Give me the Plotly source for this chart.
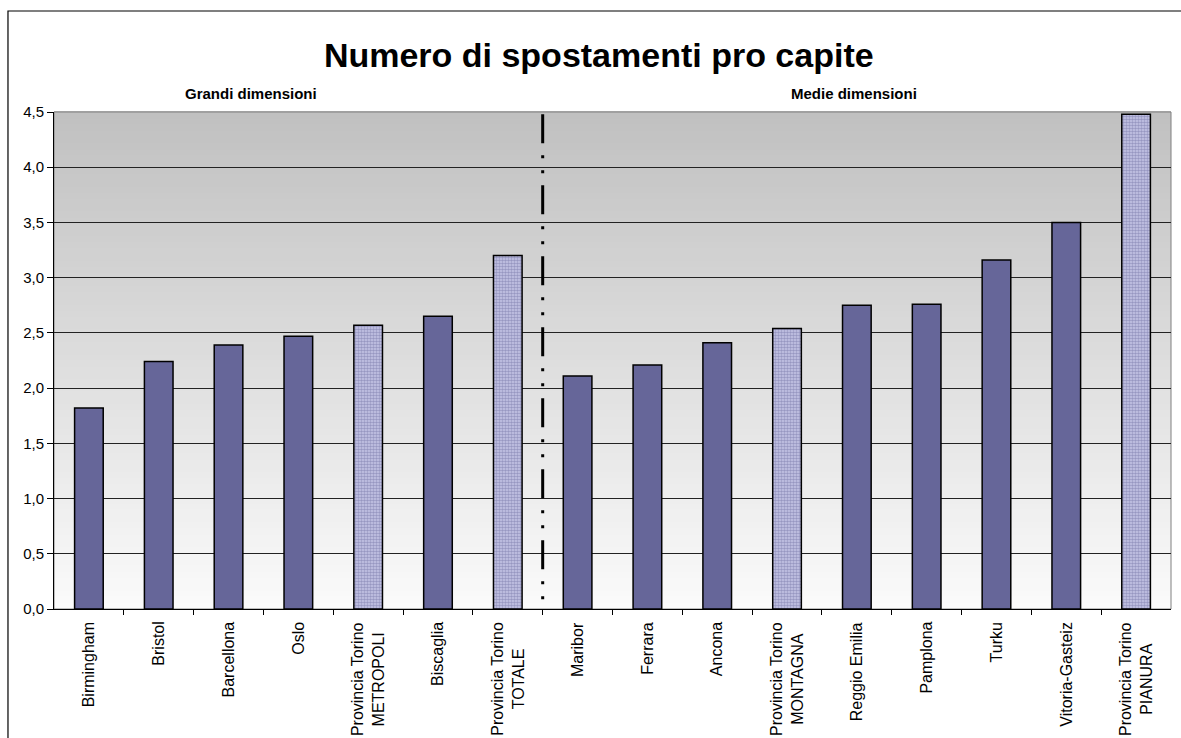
import plotly.graph_objects as go

# Trips per person, per city
cities = [
    "Birmingham", "Bristol", "Barcellona", "Oslo",
    "Provincia Torino<br>METROPOLI", "Biscaglia", "Provincia Torino<br>TOTALE",
    "Maribor", "Ferrara", "Ancona", "Provincia Torino<br>MONTAGNA",
    "Reggio Emilia", "Pamplona", "Turku", "Vitoria-Gasteiz",
    "Provincia Torino<br>PIANURA",
]
trips = [1.82, 2.24, 2.39, 2.47, 2.57, 2.65, 3.20,
         2.11, 2.21, 2.41, 2.54, 2.75, 2.76, 3.16, 3.50, 4.48]
torino_flags = [False, False, False, False, True, False, True,
                False, False, False, True, False, False, False, False, True]
y_ticks = [0.0, 0.5, 1.0, 1.5, 2.0, 2.5, 3.0, 3.5, 4.0, 4.5]
group_titles = ["Grandi dimensioni", "Medie dimensioni"]

FONT = "Liberation Sans, Arial, sans-serif"
BAR = "#666699"

xs = list(range(len(cities)))
solid_x = [x for x, t in zip(xs, torino_flags) if not t]
solid_y = [v for v, t in zip(trips, torino_flags) if not t]
torino_x = [x for x, t in zip(xs, torino_flags) if t]
torino_y = [v for v, t in zip(trips, torino_flags) if t]

fig = go.Figure()
fig.add_trace(go.Bar(
    x=solid_x, y=solid_y, width=0.41,
    marker=dict(color=BAR, line=dict(color="black", width=1.5)),
    hoverinfo="y",
))
fig.add_trace(go.Bar(
    x=torino_x, y=torino_y, width=0.41,
    marker=dict(
        color="#b4b4dc",
        line=dict(color="black", width=1.5),
        pattern=dict(shape=".", fgcolor="#666699", bgcolor="#c8c8e8",
                     size=3, solidity=0.55),
    ),
    hoverinfo="y",
))

shapes = []
# vertical gradient behind the plot area (gray at top, near-white at bottom)
n_bands = 80
for i in range(n_bands):
    f = i / n_bands
    g = round(251 - (251 - 192) * (f + 0.5 / n_bands))
    shapes.append(dict(
        type="rect", xref="x domain", yref="y domain",
        x0=0, x1=1, y0=f, y1=(i + 1) / n_bands + 0.002,
        fillcolor=f"rgb({g},{g},{g})", line=dict(width=0), layer="below",
    ))
# plot area border
shapes.append(dict(type="rect", xref="x domain", yref="y domain",
                   x0=0, x1=1, y0=0, y1=1,
                   line=dict(color="#808080", width=1), layer="below"))
# separator between the two size groups
shapes.append(dict(
    type="line", xref="x", yref="y",
    x0=6.5, x1=6.5, y0=4.48, y1=0.08,
    line=dict(color="black", width=3, dash="29px,12px,3px,12px,3px,12px"),
    layer="above",
))
# outer chart frame
shapes.append(dict(type="rect", xref="paper", yref="paper",
                   x0=-0.0412, x1=1.04, y0=-0.3, y1=1.2032,
                   line=dict(color="black", width=1.2), layer="below"))

annotations = []
for x, name in zip(xs, cities):
    annotations.append(dict(
        x=x, xref="x", y=-0.022, yref="paper",
        text=name, textangle=-90, showarrow=False,
        xanchor="center", yanchor="top", align="center",
        font=dict(family=FONT, size=16, color="black"),
    ))
annotations.append(dict(
    x=2.32, xref="x", y=1.038, yref="paper", text=f"<b>{group_titles[0]}</b>",
    showarrow=False, xanchor="center", yanchor="middle",
    font=dict(family=FONT, size=15, color="black"),
))
annotations.append(dict(
    x=10.96, xref="x", y=1.038, yref="paper", text=f"<b>{group_titles[1]}</b>",
    showarrow=False, xanchor="center", yanchor="middle",
    font=dict(family=FONT, size=15, color="black"),
))

fig.update_layout(
    width=1181, height=738,
    margin=dict(l=54, r=10, t=112, b=129),
    paper_bgcolor="white",
    plot_bgcolor="rgba(0,0,0,0)",
    separators=",.",
    showlegend=False,
    bargap=0.59,
    title=dict(
        text="<b>Numero di spostamenti pro capite</b>",
        x=0.507, xanchor="center", y=0.925, yanchor="middle",
        font=dict(family=FONT, size=34, color="black"),
    ),
    font=dict(family=FONT, color="black"),
    shapes=shapes,
    annotations=annotations,
)
fig.update_xaxes(
    range=[-0.5, len(cities) - 0.5],
    tickmode="array", tickvals=[x + 0.5 for x in xs[:-1]],
    showticklabels=False, ticks="outside", ticklen=5,
    tickcolor="black", showgrid=False, zeroline=False,
    showline=True, linecolor="black", linewidth=1,
)
fig.update_yaxes(
    range=[0, 4.5], tickvals=y_ticks, tickformat=".1f",
    ticks="outside", ticklen=6, tickcolor="black",
    tickfont=dict(family=FONT, size=15, color="black"),
    showgrid=True, gridcolor="#222222", gridwidth=1,
    zeroline=False, showline=True, linecolor="black", linewidth=1,
)

fig.write_html("out.html")
